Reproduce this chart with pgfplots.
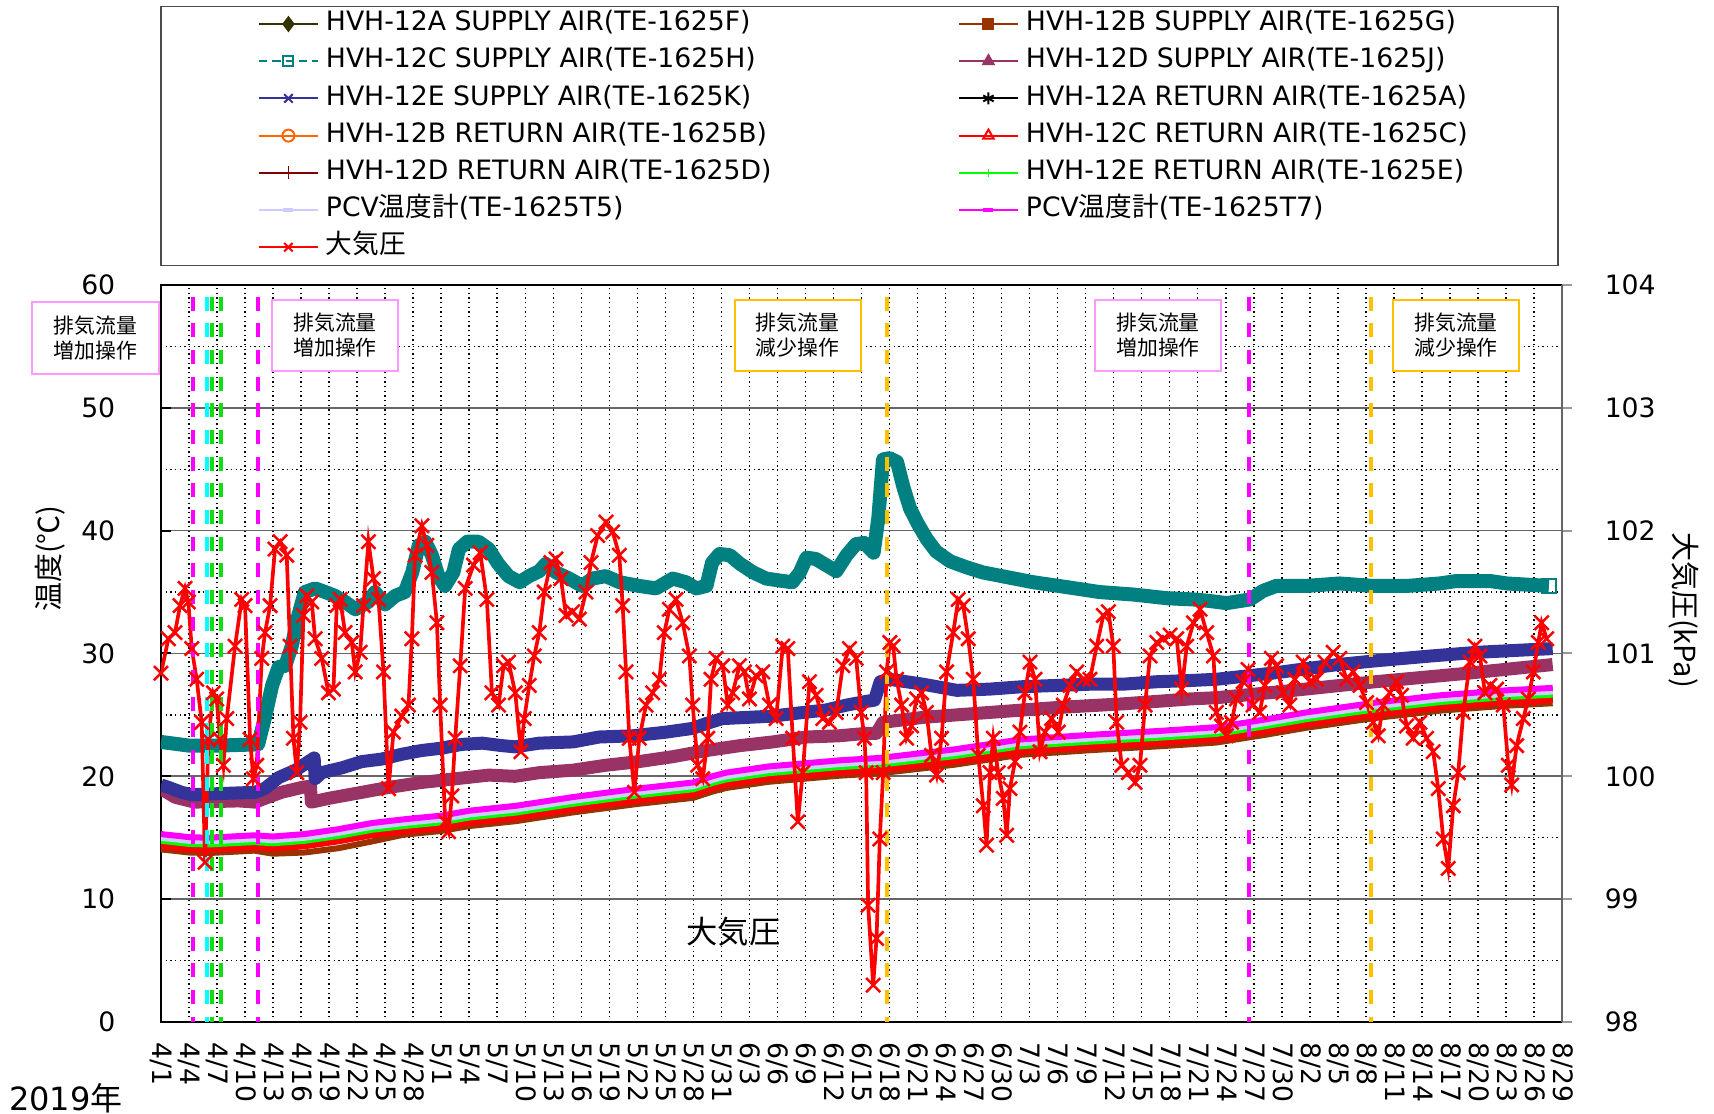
\documentclass[border=0pt]{standalone}
\usepackage{pgfplots}
\usepackage{pgfplotstable}
\pgfplotsset{compat=1.18}
\usepackage{fontspec}
\setmainfont{DejaVu Sans}
\newfontfamily\cjk{Noto Sans CJK JP}
\definecolor{cOlive}{HTML}{333300}
\definecolor{cBrown}{HTML}{993300}
\definecolor{cTeal}{HTML}{008080}
\definecolor{cPurple}{HTML}{993366}
\definecolor{cBlue}{HTML}{333399}
\definecolor{cOrange}{HTML}{FF6600}
\definecolor{cRed}{HTML}{FF0000}
\definecolor{cDarkRed}{HTML}{800000}
\definecolor{cGreen}{HTML}{00FF00}
\definecolor{cLav}{HTML}{CCCCFF}
\definecolor{cMag}{HTML}{FF00FF}
\definecolor{cPink}{HTML}{FF99FF}
\definecolor{cAmber}{HTML}{FFC000}
\definecolor{cCyan}{HTML}{00FFFF}
\definecolor{cDGreen}{HTML}{11DD11}
\pgfplotsset{
  mylegend/.style={legend image code/.code={\draw[mark repeat=2,mark phase=2,##1] plot coordinates {(0pt,0pt) (8.85pt,0pt) (17.7pt,0pt)};}},
}
% lower band (return air, PCV, A/B supply)
\pgfplotstableread{
x     mag   lav   blk   grn   olv   org   red   dred  brn
0     15.3  15.0  15.2  14.75 14.6  14.5  14.35 14.4  14.05
3     15.05 14.75 14.95 14.5  14.35 14.25 14.1  14.15 13.8
5     15.0  14.7  14.9  14.45 14.3  14.2  14.05 14.1  13.75
10    15.2  14.9  15.1  14.65 14.5  14.4  14.25 14.3  13.95
12    15.1  14.8  15.0  14.55 14.4  14.3  14.15 14.2  13.7
15.4  15.3  15.0  15.2  14.75 14.6  14.5  14.35 14.4  13.8
19    15.7  15.4  15.6  15.15 15.0  14.9  14.75 14.8  14.15
22.6  16.2  15.9  16.1  15.65 15.5  15.4  15.25 15.3  14.7
26    16.5  16.2  16.4  15.95 15.8  15.7  15.55 15.6  15.25
30    16.8  16.5  16.7  16.25 16.1  16.0  15.85 15.9  15.55
33    17.2  16.9  17.1  16.65 16.5  16.4  16.25 16.3  15.95
38    17.6  17.3  17.5  17.05 16.9  16.8  16.65 16.7  16.35
44    18.3  18.0  18.2  17.75 17.6  17.5  17.35 17.4  17.05
51    19.0  18.7  18.9  18.45 18.3  18.2  18.05 18.1  17.75
57    19.5  19.2  19.4  18.95 18.8  18.7  18.55 18.6  18.25
59    20.0  19.7  19.9  19.45 19.3  19.2  19.05 19.1  18.75
60.5  20.3  20.0  20.2  19.75 19.6  19.5  19.35 19.4  19.05
65    20.8  20.5  20.7  20.25 20.1  20.0  19.85 19.9  19.55
72.6  21.3  21.0  21.2  20.75 20.6  20.5  20.35 20.4  20.05
77    21.5  21.2  21.4  20.95 20.8  20.7  20.55 20.6  20.25
85    22.2  21.9  22.1  21.65 21.5  21.4  21.25 21.3  20.95
92    23.0  22.7  22.9  22.45 22.3  22.2  22.05 22.1  21.75
100   23.4  23.1  23.3  22.85 22.7  22.6  22.45 22.5  22.15
107   23.7  23.4  23.6  23.15 23.0  22.9  22.75 22.8  22.45
113   24.0  23.7  23.9  23.45 23.3  23.2  23.05 23.1  22.75
118   24.6  24.3  24.5  24.05 23.9  23.8  23.65 23.7  23.35
122.6 25.2  24.9  25.1  24.65 24.5  24.4  24.25 24.3  23.95
130   26.0  25.7  25.9  25.45 25.3  25.2  25.05 25.1  24.75
137   26.6  26.3  26.5  26.05 25.9  25.8  25.65 25.7  25.35
144   27.0  26.7  26.9  26.45 26.3  26.2  26.05 26.1  25.75
149   27.2  26.9  27.1  26.65 26.5  26.4  26.25 26.3  25.95
}\lowband
% HVH-12C supply
\pgfplotstableread{
x y
0 22.8
3 22.5
6 22.5
10.4 22.6
11.1 24.7
11.9 27.4
12.6 28.9
13.3 29.0
14.0 30.6
14.7 33.1
15.4 35.0
16.5 35.3
17.6 35.0
18.6 34.7
19.7 34.2
20.8 33.6
22.2 34.2
22.9 35.0
24.0 34.0
25.1 34.7
26.1 35.0
26.9 36.6
27.6 38.8
28.3 39.1
29.0 38.0
29.7 36.3
30.4 35.5
31.3 36.6
31.9 38.5
32.8 39.1
34.0 39.1
35.1 38.5
36.1 37.3
37.2 36.3
38.4 35.8
39.4 36.3
40.5 36.7
41.2 37.3
42.3 36.6
43.7 36.1
45.1 35.5
46.2 36.1
47.6 36.3
49.1 35.8
51.2 35.5
53.0 35.3
54.8 36.1
56.2 35.8
57.3 35.3
58.4 35.5
59.0 37.4
59.8 38.1
60.9 38.0
62.0 37.3
63.4 36.6
64.8 36.1
66.6 35.9
67.6 35.8
68.4 36.6
69.1 37.8
70.1 37.7
71.2 37.2
72.3 36.7
73.4 38.0
74.4 38.9
75.3 39.0
76.3 38.2
76.8 41.0
77.3 45.8
78.0 45.9
78.8 45.6
79.5 43.5
80.2 41.8
81.0 40.6
82.0 39.3
83.0 38.3
84.5 37.5
86.3 37.0
88.0 36.6
90.0 36.3
93.4 35.8
97.0 35.4
100.5 35.0
104.1 34.8
107.7 34.5
110.5 34.4
112.0 34.3
114.1 34.1
116.6 34.4
118.0 35.1
119.4 35.5
122.6 35.5
126.2 35.7
129.8 35.5
133.4 35.5
136.9 35.7
138.7 35.9
142.3 35.9
144.1 35.7
148.6 35.5
}\teal
% HVH-12E supply
\pgfplotstableread{
x y
0 19.3
0.8 19.1
2.2 18.7
3.3 18.5
6.5 18.6
10.1 18.7
11.1 19.0
12.6 19.9
14.4 20.5
15.8 21.2
16.4 21.5
16.5 19.8
17.2 20.3
19.4 20.7
21.5 21.2
23.6 21.4
25.8 21.8
27.9 22.1
30.1 22.3
32.2 22.6
34.4 22.7
36.5 22.5
37.9 22.4
40.5 22.7
44.1 22.8
46.9 23.2
50.5 23.3
54.1 23.6
56.9 23.9
58.4 24.3
60.1 24.7
65.5 24.9
67.6 25.1
71.2 25.4
73.4 25.8
75.5 26.1
76.4 26.2
77.0 27.7
78.0 27.9
81.6 27.5
85.2 27.0
88.7 27.1
92.3 27.3
95.9 27.4
99.5 27.5
103.0 27.5
106.6 27.7
110.2 27.8
113.0 27.9
119.0 28.4
126.0 29.1
130.0 29.4
136.0 29.8
141.0 30.1
149.0 30.4
}\blue
% HVH-12D supply
\pgfplotstableread{
x y
0 19.0
1.5 18.3
3.6 17.9
8.3 18.0
10.1 17.9
11.1 18.2
12.9 18.7
15.1 19.1
16.0 19.2
16.1 17.9
17.9 18.2
20.8 18.6
24.4 19.1
27.9 19.5
31.5 19.8
35.1 20.1
37.9 20.0
40.5 20.3
44.1 20.5
47.6 20.9
51.2 21.2
54.8 21.6
58.4 22.1
62.0 22.5
65.5 22.8
69.1 23.2
72.6 23.3
75.5 23.5
76.6 23.5
77.3 24.4
81.6 24.8
88.7 25.2
95.9 25.6
103.0 25.9
110.2 26.3
113.0 26.4
120.0 26.9
130.0 27.7
140.0 28.4
149.0 29.1
}\purple
% atmospheric pressure (kPa)
\pgfplotstableread{
x p
0.00 100.84
0.79 101.12
1.50 101.17
2.04 101.39
2.57 101.53
2.93 101.42
3.29 101.04
3.82 100.79
4.36 100.44
4.71 99.30
5.07 100.30
5.61 100.68
5.96 100.63
6.32 100.30
6.68 100.09
7.04 100.47
7.93 101.06
8.64 101.44
9.00 101.39
9.54 100.30
9.89 99.98
10.25 100.09
10.79 100.96
11.14 101.17
11.68 101.39
12.21 101.85
12.75 101.91
13.46 101.80
13.82 101.06
14.18 100.31
14.54 100.03
14.89 100.44
15.25 101.31
15.61 101.47
16.14 101.42
16.50 101.12
17.21 100.96
17.93 100.68
18.46 100.71
18.82 101.39
19.18 101.44
19.71 101.17
20.43 101.09
20.79 100.85
21.32 101.01
21.68 101.39
22.21 101.91
22.75 101.61
23.29 101.44
23.82 100.85
24.36 99.90
24.89 100.36
25.79 100.49
26.50 100.58
26.86 101.12
27.21 101.80
27.93 102.04
28.46 101.88
29.00 101.66
29.54 101.25
29.89 100.58
30.43 99.63
30.79 99.55
31.14 99.84
31.50 100.31
32.04 100.90
32.57 101.53
33.46 101.72
34.18 101.82
34.89 101.44
35.43 100.68
36.14 100.58
36.68 100.90
37.21 100.93
37.93 100.68
38.54 100.20
38.89 100.47
39.43 100.74
39.96 100.98
40.50 101.17
41.04 101.50
41.75 101.74
42.29 101.77
42.82 101.61
43.36 101.31
44.07 101.34
44.79 101.28
45.50 101.50
46.04 101.74
46.75 101.96
47.64 102.07
48.36 101.99
49.07 101.80
49.43 101.39
49.79 100.85
50.14 100.31
50.68 99.87
51.21 100.31
51.93 100.58
52.64 100.68
53.36 100.79
53.89 101.17
54.43 101.36
55.14 101.44
55.86 101.25
56.57 100.98
56.93 100.58
57.46 100.09
58.00 99.98
58.54 100.31
58.89 100.79
59.43 100.96
60.14 100.90
60.68 100.58
61.21 100.68
61.93 100.90
62.46 100.85
63.00 100.63
63.71 100.82
64.43 100.85
65.14 100.58
65.86 100.47
66.57 101.06
67.11 101.04
67.64 100.31
68.18 99.63
68.71 100.03
69.43 100.77
70.14 100.66
70.86 100.47
71.57 100.44
72.29 100.52
73.00 100.90
73.71 101.04
74.43 100.96
74.96 100.52
75.32 100.31
75.50 100.03
75.71 98.95
76.25 98.30
76.61 98.68
76.96 99.49
77.32 100.03
77.68 100.85
78.04 101.09
78.39 101.06
78.75 100.79
79.29 100.58
79.82 100.31
80.36 100.41
80.89 100.63
81.43 100.68
81.96 100.52
82.50 100.17
83.04 100.01
83.57 100.31
84.11 100.85
84.82 101.17
85.36 101.44
85.89 101.39
86.43 101.12
86.96 100.79
87.50 100.17
88.04 99.76
88.39 99.44
88.75 100.03
89.11 100.31
89.64 100.03
90.18 99.82
90.54 99.52
90.89 99.90
91.43 100.12
91.96 100.36
92.50 100.68
93.04 100.93
93.57 100.79
94.11 100.20
94.64 100.36
95.36 100.47
96.07 100.36
96.61 100.58
97.32 100.74
98.04 100.85
98.75 100.79
99.46 100.79
100.18 101.06
100.89 101.31
101.43 101.34
101.96 101.06
102.32 100.44
102.86 100.09
103.57 100.03
104.29 99.95
104.82 100.09
105.36 100.58
105.89 100.98
106.61 101.09
107.32 101.12
108.04 101.15
108.75 101.12
109.29 100.71
109.82 101.06
110.54 101.25
111.25 101.36
111.96 101.17
112.68 100.98
113.00 100.52
113.54 100.41
114.07 100.33
114.61 100.44
115.14 100.63
115.86 100.77
116.39 100.87
116.93 100.58
117.64 100.52
118.18 100.74
118.89 100.96
119.43 100.90
120.14 100.68
120.86 100.58
121.39 100.79
122.29 100.93
123.00 100.77
123.71 100.79
124.61 100.93
125.50 101.01
126.21 100.96
126.93 100.79
127.64 100.85
128.36 100.74
129.07 100.60
129.79 100.44
130.32 100.33
130.86 100.58
131.57 100.68
132.29 100.77
132.82 100.66
133.36 100.41
134.07 100.31
134.79 100.44
135.50 100.31
136.21 100.20
136.75 99.90
137.29 99.49
137.82 99.25
138.36 99.76
138.89 100.03
139.43 100.52
140.14 100.93
140.68 101.06
141.21 100.98
141.75 100.68
142.29 100.74
143.00 100.71
143.71 100.58
144.25 100.09
144.61 99.93
145.14 100.25
145.86 100.47
146.39 100.63
146.93 100.85
147.46 101.09
147.82 101.25
148.36 101.12
}\press
\begin{document}
\begin{tikzpicture}
\path[use as bounding box] (-48.3pt,-27.6pt) rectangle (465.9pt,306.6pt);
\begin{axis}[
  at={(0pt,0pt)}, anchor=south west,
  scale only axis, width=420.3pt, height=221.1pt,
  xmin=0, xmax=150, ymin=0, ymax=60,
  xtick={0,3,...,150},
  xticklabels={4/1,4/4,4/7,4/10,4/13,4/16,4/19,4/22,4/25,4/28,5/1,5/4,5/7,5/10,5/13,5/16,5/19,5/22,5/25,5/28,5/31,6/3,6/6,6/9,6/12,6/15,6/18,6/21,6/24,6/27,6/30,7/3,7/6,7/9,7/12,7/15,7/18,7/21,7/24,7/27,7/30,8/2,8/5,8/8,8/11,8/14,8/17,8/20,8/23,8/26,8/29},
  ytick={0,10,...,60},
  minor ytick={5,15,...,55},
  xtick pos=bottom, ytick pos=left,
  tick align=inside,
  major tick length=3pt, minor tick length=0pt,
  xtick style={draw=none},
  ytick style={black, line width=0.6pt},
  xmajorgrids, ymajorgrids, yminorgrids,
  major x grid style={black, densely dotted, line width=0.45pt},
  major y grid style={black!60, solid, line width=0.5pt},
  minor y grid style={black, densely dotted, line width=0.4pt},
  axis line style={black, line width=0.6pt},
  tick label style={font=\fontsize{8}{9.6}\selectfont},
  /pgf/number format/assume math mode=true,
  xticklabel style={yshift=-2.7pt, rotate=-90, anchor=west},
  yticklabel style={xshift=-10.2pt},
  legend columns=2,
  legend cell align=left,
  legend style={at={(0.0692,1.3722)}, anchor=north west, draw=none, fill=none,
    inner sep=0pt, outer sep=0pt, font=\fontsize{8}{9.6}\selectfont,
    row sep=3.16pt, column sep=0pt,
    nodes={inner sep=0pt, text height=6pt, text depth=2pt},
    cells={anchor=west},
    /tikz/every odd column/.append style={column sep=2.1pt}},
  ]
\addlegendimage{mylegend, cOlive, line width=0.6pt, mark=diamond*, mark size=2pt, mark options={solid}}
\addlegendentry{\makebox[189.6pt][l]{HVH-12A SUPPLY AIR(TE-1625F)}}
\addlegendimage{mylegend, cBrown, line width=0.6pt, mark=square*, mark size=1.5pt, mark options={solid}}
\addlegendentry{HVH-12B SUPPLY AIR(TE-1625G)}
\addlegendimage{mylegend, cTeal, line width=0.6pt, dash pattern=on 2.5pt off 1.5pt, mark=square, mark size=1.5pt, mark options={solid, fill=white}}
\addlegendentry{\makebox[189.6pt][l]{HVH-12C SUPPLY AIR(TE-1625H)}}
\addlegendimage{mylegend, cPurple, line width=0.6pt, mark=triangle*, mark size=1.8pt, mark options={solid}}
\addlegendentry{HVH-12D SUPPLY AIR(TE-1625J)}
\addlegendimage{mylegend, cBlue, line width=0.6pt, mark=x, mark size=1.8pt, mark options={solid}}
\addlegendentry{\makebox[189.6pt][l]{HVH-12E SUPPLY AIR(TE-1625K)}}
\addlegendimage{mylegend, black, line width=0.6pt, mark=asterisk, mark size=1.8pt, mark options={solid}}
\addlegendentry{HVH-12A RETURN AIR(TE-1625A)}
\addlegendimage{mylegend, cOrange, line width=0.6pt, mark=o, mark size=1.8pt, mark options={solid, fill=white}}
\addlegendentry{\makebox[189.6pt][l]{HVH-12B RETURN AIR(TE-1625B)}}
\addlegendimage{mylegend, cRed, line width=0.6pt, mark=triangle, mark size=1.8pt, mark options={solid, fill=white}}
\addlegendentry{HVH-12C RETURN AIR(TE-1625C)}
\addlegendimage{mylegend, cDarkRed, line width=0.6pt, mark=+, mark size=2pt, mark options={solid, line width=0.3pt}}
\addlegendentry{\makebox[189.6pt][l]{HVH-12D RETURN AIR(TE-1625D)}}
\addlegendimage{mylegend, cGreen, line width=0.6pt, mark=|, mark size=1.2pt, mark options={solid, line width=0.3pt}}
\addlegendentry{HVH-12E RETURN AIR(TE-1625E)}
\addlegendimage{mylegend, cLav, line width=0.6pt, mark=-, mark size=1.5pt, mark options={solid, line width=1pt}}
\addlegendentry{\makebox[189.6pt][l]{PCV{\cjk 温度計}(TE-1625T5)}}
\addlegendimage{mylegend, cMag, line width=0.6pt, mark=-, mark size=1.5pt, mark options={solid, line width=1.2pt}}
\addlegendentry{PCV{\cjk 温度計}(TE-1625T7)}
\addlegendimage{mylegend, cRed, line width=0.6pt, mark=x, mark size=1.8pt, mark options={solid}}
\addlegendentry{{\cjk 大気圧}}
% data
\addplot[forget plot, cOlive, line width=1.8pt, line join=round] table[x=x, y=olv] {\lowband};
\addplot[forget plot, cBrown, line width=1.8pt, line join=round] table[x=x, y=brn] {\lowband};
\addplot[forget plot, cTeal, line width=4.2pt, line join=round] table[x=x, y=y] {\teal};
\addplot[forget plot, only marks, mark=square, mark size=2.1pt, cTeal, mark options={fill=white, line width=0.6pt}] coordinates {(148.6,35.5)};
\addplot[forget plot, cPurple, line width=3.9pt, line join=round] table[x=x, y=y] {\purple};
\addplot[forget plot, cBlue, line width=3.9pt, line join=round] table[x=x, y=y] {\blue};
\addplot[forget plot, black, line width=1.2pt, line join=round] table[x=x, y=blk] {\lowband};
\addplot[forget plot, cOrange, line width=1.8pt, line join=round] table[x=x, y=org] {\lowband};
\addplot[forget plot, cDarkRed, line width=1.2pt, line join=round] table[x=x, y=dred] {\lowband};
\addplot[forget plot, cRed, line width=2.1pt, line join=round] table[x=x, y=red] {\lowband};
\addplot[forget plot, cGreen, line width=1.8pt, line join=round] table[x=x, y=grn] {\lowband};
\addplot[forget plot, cLav, line width=1.8pt, line join=round] table[x=x, y=lav] {\lowband};
\addplot[forget plot, cMag, line width=1.8pt, line join=round] table[x=x, y=mag] {\lowband};
\end{axis}
\begin{axis}[
  at={(0pt,0pt)}, anchor=south west,
  scale only axis, width=420.3pt, height=221.1pt,
  xmin=0, xmax=150, ymin=98, ymax=104,
  axis x line=none, axis y line*=right,
  ytick={98,99,100,101,102,103,104},
  tick align=outside, major tick length=3pt,
  ytick style={black!40, line width=0.6pt},
  axis line style={black!60, line width=0.6pt},
  tick label style={font=\fontsize{8}{9.6}\selectfont},
  /pgf/number format/assume math mode=true,
  yticklabel style={xshift=6.3pt},
  ]
\addplot[forget plot, cRed, line width=1.1pt, mark=x, mark size=3pt, mark options={line width=0.75pt}] table[x=x, y=p] {\press};
% operation lines
\addplot[forget plot, cMag, line width=1.2pt, dash pattern=on 4.2pt off 3.8pt, dash phase=-3.5pt] coordinates {(3.4,104) (3.4,98)};
\addplot[forget plot, cCyan, line width=1.2pt, dash pattern=on 4.2pt off 3.8pt, dash phase=-3.5pt] coordinates {(4.9,104) (4.9,98)};
\addplot[forget plot, cDGreen, line width=1.2pt, dash pattern=on 4.2pt off 3.8pt, dash phase=-3.5pt] coordinates {(5.5,104) (5.5,98)};
\addplot[forget plot, cDGreen, line width=1.2pt, dash pattern=on 4.2pt off 3.8pt, dash phase=-3.5pt] coordinates {(6.4,104) (6.4,98)};
\addplot[forget plot, cMag, line width=1.2pt, dash pattern=on 4.2pt off 3.8pt, dash phase=-3.5pt] coordinates {(10.4,104) (10.4,98)};
\addplot[forget plot, cAmber, line width=1.2pt, dash pattern=on 4.2pt off 3.8pt, dash phase=-3.5pt] coordinates {(77.7,104) (77.7,98)};
\addplot[forget plot, cMag, line width=1.2pt, dash pattern=on 4.2pt off 3.8pt, dash phase=-3.5pt] coordinates {(116.5,104) (116.5,98)};
\addplot[forget plot, cAmber, line width=1.2pt, dash pattern=on 4.2pt off 3.8pt, dash phase=-3.5pt] coordinates {(129.6,104) (129.6,98)};
\end{axis}
% legend frame
\draw[black!70, line width=0.4pt] (0pt,226.9pt) rectangle (419.1pt,304.6pt);
% annotation boxes
\tikzset{opbox/.style={line width=0.6pt, fill=white, minimum width=37.8pt, minimum height=21.4pt, align=center, inner sep=0pt, font=\fontsize{6.25}{7.5}\selectfont\cjk}}
\node[opbox, draw=cPink, minimum width=38.1pt, minimum height=21.6pt] at (-19.65pt,205.2pt) {排気流量\\増加操作};
\node[opbox, draw=cPink] at (52.2pt,205.95pt) {排気流量\\増加操作};
\node[opbox, draw=cAmber] at (190.95pt,205.95pt) {排気流量\\減少操作};
\node[opbox, draw=cPink] at (299.1pt,205.95pt) {排気流量\\増加操作};
\node[opbox, draw=cAmber] at (388.5pt,205.95pt) {排気流量\\減少操作};
% labels
\node[rotate=90, font=\fontsize{8.7}{10}\selectfont\cjk] at (-33.3pt,139pt) {温度(℃)};
\node[rotate=-90, font=\fontsize{8.7}{10}\selectfont\cjk] at (456.8pt,123.6pt) {大気圧(kPa)};
\node[font=\fontsize{9.6}{11}\selectfont] at (-28.5pt,-22.8pt) {2019{\cjk 年}};
\node[font=\fontsize{9.4}{11}\selectfont\cjk] at (171.75pt,27.2pt) {大気圧};
\end{tikzpicture}
\end{document}
